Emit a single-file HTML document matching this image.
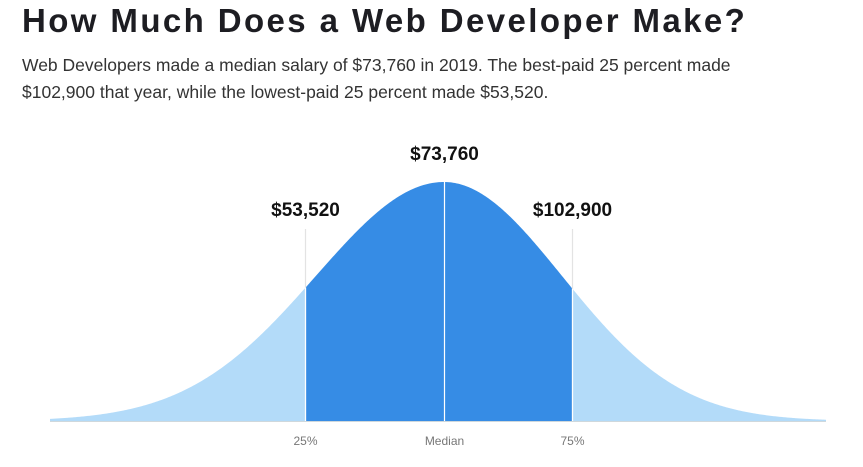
<!DOCTYPE html>
<html><head><meta charset="utf-8"><style>
body{margin:0;width:863px;height:467px;background:#fff;overflow:hidden;font-family:"Liberation Sans",sans-serif}
h1{position:absolute;left:22px;top:2px;margin:0;font-size:33px;font-weight:bold;color:#1d1d22;letter-spacing:2.4px;white-space:nowrap}
p{position:absolute;left:22px;top:52px;margin:0;font-size:17.5px;line-height:27px;color:#333;width:840px}
svg{position:absolute;left:0;top:0}
</style></head><body>
<h1>How Much Does a Web Developer Make?</h1>
<p>Web Developers made a median salary of $73,760 in 2019. The best-paid 25 percent made<br>$102,900 that year, while the lowest-paid 25 percent made $53,520.</p>
<svg id="c" width="863" height="467"></svg>
<script>
const labels=["25%","Median","75%"];
const salaries=[53520,73760,102900];
const valueLabels=["$53,520","$73,760","$102,900"];
const ns="http://www.w3.org/2000/svg",svg=document.getElementById('c');
const px=[305,444,572];
const base=421,peakH=239,x0=50,x1=826;
function xs(v){
  if(v<=salaries[1]) return px[0]+(v-salaries[0])/(salaries[1]-salaries[0])*(px[1]-px[0]);
  return px[1]+(v-salaries[1])/(salaries[2]-salaries[1])*(px[2]-px[1]);
}
const mx=xs(salaries[1]);
const sL=(mx-xs(salaries[0]))/1.084, sR=(xs(salaries[2])-mx)/1.084;
function ys(x){const s=x<mx?sL:sR;const z=(x-mx)/s;return base-peakH*Math.exp(-z*z/2);}
function area(a,b,fill,name){
  let d=`M${a},${base}`;for(let x=a;x<=b;x+=1)d+=`L${x},${ys(x).toFixed(2)}`;d+=`L${b},${ys(b).toFixed(2)}L${b},${base}Z`;
  const p=document.createElementNS(ns,'path');p.setAttribute('d',d);p.setAttribute('fill',fill);
  
  
  svg.appendChild(p);
}
const q1=xs(salaries[0]),q3=xs(salaries[2]);
area(x0,q1,'#b3dbf9','lower-quartile-area');
area(q1,q3,'#368ce5','middle-50-area');
area(q3,x1,'#b3dbf9','upper-quartile-area');
const base_l=document.createElementNS(ns,'line');
base_l.setAttribute('x1',x0);base_l.setAttribute('x2',x1);base_l.setAttribute('y1',base+0.5);base_l.setAttribute('y2',base+0.5);base_l.setAttribute('stroke','#cfd8dc');


svg.appendChild(base_l);
salaries.forEach((v,i)=>{
  const x=Math.round(xs(v))+0.5;
  const top=i==1?173:229;
  const l=document.createElementNS(ns,'line');
  l.setAttribute('x1',x);l.setAttribute('x2',x);l.setAttribute('y1',top);l.setAttribute('y2',base);
  l.setAttribute('stroke',i==1?'#ffffff':'#e3e3e3');l.setAttribute('stroke-width','1.2');
  
  
  svg.appendChild(l);
  if(i!=1){const l2=l.cloneNode();l2.setAttribute('y1',ys(x));l2.setAttribute('stroke','#ffffff');
    
    
    svg.appendChild(l2);}
  const t=document.createElementNS(ns,'text');
  t.setAttribute('x',x);t.setAttribute('y',i==1?160:216);t.setAttribute('text-anchor','middle');
  t.setAttribute('font-size','19');t.setAttribute('font-weight','bold');t.setAttribute('fill','#111');
  t.textContent=valueLabels[i];
  
  
  svg.appendChild(t);
  const a=document.createElementNS(ns,'text');
  a.setAttribute('x',x);a.setAttribute('y',445);a.setAttribute('text-anchor','middle');
  a.setAttribute('font-size','12');a.setAttribute('fill','#777');
  a.textContent=labels[i];
  
  
  svg.appendChild(a);
});
</script>
</body></html>
